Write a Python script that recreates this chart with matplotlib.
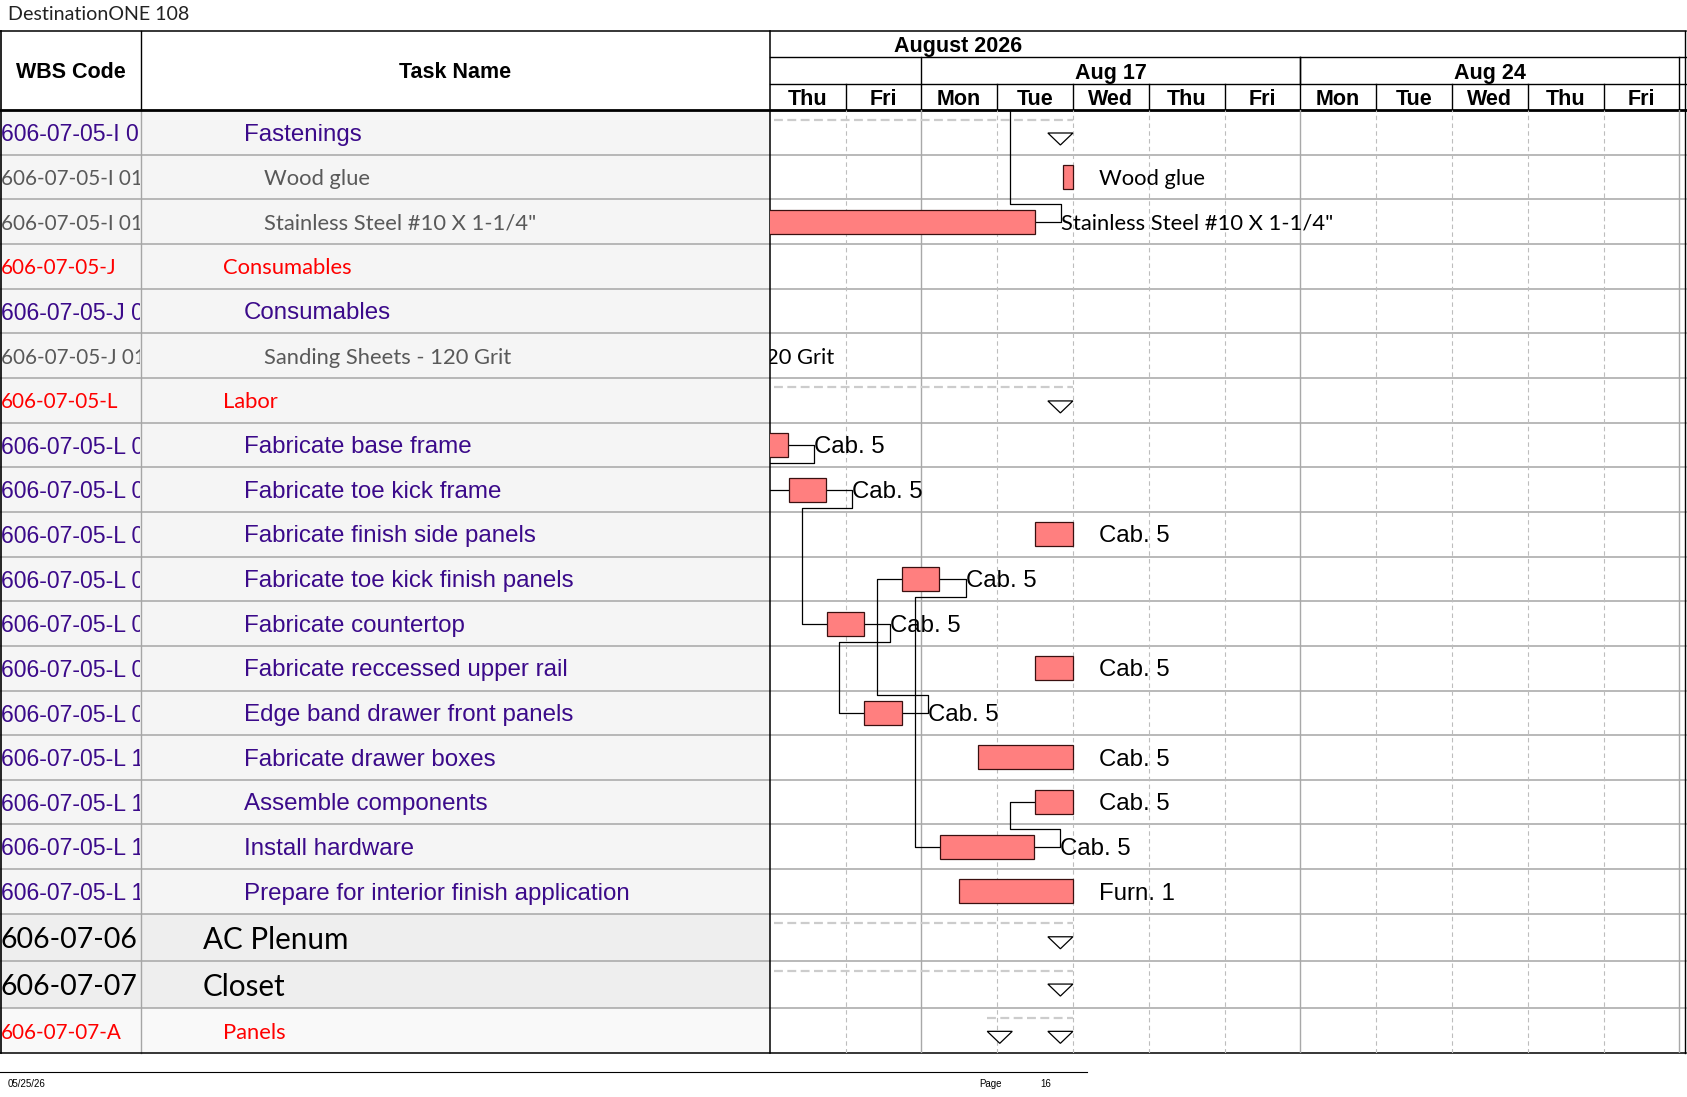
import numpy as np
import matplotlib
matplotlib.use("Agg")
import matplotlib.pyplot as plt
from matplotlib.patches import Rectangle, Polygon

# ---------------- data ----------------
wbs_codes = ["606-07-05-I 01", "606-07-05-I 0101", "606-07-05-I 0102",
             "606-07-05-J", "606-07-05-J 01", "606-07-05-J 0101",
             "606-07-05-L", "606-07-05-L 03", "606-07-05-L 04", "606-07-05-L 05",
             "606-07-05-L 06", "606-07-05-L 07", "606-07-05-L 08", "606-07-05-L 09",
             "606-07-05-L 10", "606-07-05-L 11", "606-07-05-L 12", "606-07-05-L 13",
             "606-07-06", "606-07-07", "606-07-07-A"]
task_names = ["Fastenings", "Wood glue", "Stainless Steel #10 X 1-1/4\"",
              "Consumables", "Consumables", "Sanding Sheets - 120 Grit",
              "Labor", "Fabricate base frame", "Fabricate toe kick frame",
              "Fabricate finish side panels", "Fabricate toe kick finish panels",
              "Fabricate countertop", "Fabricate reccessed upper rail",
              "Edge band drawer front panels", "Fabricate drawer boxes",
              "Assemble components", "Install hardware",
              "Prepare for interior finish application",
              "AC Plenum", "Closet", "Panels"]
outline_levels = [4, 5, 5, 3, 4, 5, 3, 4, 4, 4, 4, 4, 4, 4, 4, 4, 4, 4, 2, 2, 3]
row_styles = ["purple", "gray", "gray", "red", "purple", "gray", "red"] + ["purple"] * 11 + ["black", "black", "red"]
is_summary = [True, False, False, True, True, False, True] + [False] * 11 + [True, True, True]
# days counted from Thu Aug 13 2026 (working days only)
task_start = [-1.0, 3.87, -1.0, -4.0, -4.0, -3.5, -1.0,
              -0.26, 0.25, 3.5, 1.75, 0.75, 3.5, 1.25, 2.75, 3.5, 2.25, 2.5,
              -1.0, -1.0, 2.87]
task_end = [4.0, 4.0, 3.5, -2.0, -2.0, -2.76, 4.0,
            0.24, 0.74, 4.0, 2.24, 1.24, 4.0, 1.74, 4.0, 4.0, 3.49, 4.0,
            4.0, 4.0, 4.0]
bar_labels = ["", "Wood glue", "Stainless Steel #10 X 1-1/4\"", "", "", "Sanding Sheets - 120 Grit", "",
              "Cab. 5", "Cab. 5", "Cab. 5", "Cab. 5", "Cab. 5", "Cab. 5", "Cab. 5",
              "Cab. 5", "Cab. 5", "Cab. 5", "Furn. 1", "", "", ""]
links = [(7, 8), (8, 11), (11, 13), (13, 10), (10, 16), (16, 15)]
offpage_links = [(2, 3.5)]   # (predecessor row, successor start) on previous page
day_labels = ["Thu", "Fri", "Mon", "Tue", "Wed", "Thu", "Fri", "Mon", "Tue", "Wed", "Thu", "Fri"]
week_labels = ["Aug 17", "Aug 24"]
week_bounds = [(2, 7), (7, 12)]
month_label = "August 2026"
title_text = "DestinationONE 108"
footer_date = "05/25/26"
footer_page = "16"

# ---------------- layout / style ----------------
ARIAL = ["Liberation Sans", "DejaVu Sans"]
CAL = ["Lato", "DejaVu Sans"]
W, H = 1687, 1097
X_TABLE, X_RIGHT = 769.7, 1686.0
X_WBS = 141.0
Y_TOP, Y_HDR, Y_BOT = 31.0, 110.0, 1053.0
DAY_W = 75.8
X1 = (X_RIGHT - X_TABLE) / DAY_W
BAR_H = 24.0
LABEL_GAP = 0.345
BACK = 0.33
TRI_W = 0.33
TXT_DY = 2.2

txt_color = {"purple": "#3b0a8a", "gray": "#595959", "red": "#ff0000", "black": "#000000"}
txt_font = {"purple": ARIAL, "gray": CAL, "red": CAL, "black": CAL}
name_size = {"purple": 17.4, "gray": 15.8, "red": 15.8, "black": 21.3}
code_size = {"purple": 16.6, "gray": 14.9, "red": 14.9, "black": 20.5}
bg_color = {"purple": "#f5f5f5", "gray": "#f5f5f5", "red": "#f5f5f5", "black": "#eeeeee"}

n = len(task_names)
row_h = np.array([47.3 if s == "black" else 44.67 for s in row_styles])
row_h = row_h * (Y_BOT - Y_HDR) / row_h.sum()
row_top = np.concatenate([[0], np.cumsum(row_h)[:-1]])
row_ctr = row_top + row_h / 2

fig = plt.figure(figsize=(W / 100, H / 100), dpi=100)
fig.patch.set_facecolor("white")

# base axes in pixel coordinates
ax = fig.add_axes([0, 0, 1, 1])
ax.set_xlim(0, W)
ax.set_ylim(H, 0)
ax.axis("off")

# table row backgrounds
for i in range(n):
    c = bg_color[row_styles[i]]
    if i == n - 1:
        c = "#f9f9f9"
    ax.add_patch(Rectangle((0, Y_HDR + row_top[i]), X_TABLE, row_h[i], facecolor=c, edgecolor="none", zorder=0))

# horizontal row lines
for i in range(1, n):
    y = Y_HDR + row_top[i]
    ax.plot([0, X_RIGHT], [y, y], color="#a6a6a6", lw=1.1, zorder=1)

# vertical table lines
ax.plot([X_WBS, X_WBS], [Y_HDR, Y_BOT], color="#a6a6a6", lw=1.0, zorder=1)
ax.plot([X_WBS, X_WBS], [Y_TOP, Y_HDR], color="black", lw=1.0, zorder=3)
ax.plot([X_TABLE, X_TABLE], [Y_TOP, Y_BOT], color="black", lw=1.1, zorder=5)
ax.plot([0.7, 0.7], [Y_TOP, Y_BOT], color="black", lw=1.2, zorder=5)
ax.plot([X_RIGHT - 0.5, X_RIGHT - 0.5], [Y_TOP, Y_BOT], color="black", lw=1.0, zorder=5)
ax.plot([0, X_RIGHT], [Y_TOP, Y_TOP], color="black", lw=1.1, zorder=5)
ax.plot([0, X_RIGHT], [Y_HDR, Y_HDR], color="black", lw=2.0, zorder=5)
ax.plot([0, X_RIGHT], [Y_BOT, Y_BOT], color="black", lw=1.1, zorder=5)

# header texts
ax.text(X_WBS / 2, 70.5 + 2.5, "WBS Code", ha="center", va="center", fontsize=15.5,
        fontweight="bold", family=ARIAL)
ax.text((X_WBS + X_TABLE) / 2, 70.5 + 2.5, "Task Name", ha="center", va="center", fontsize=15.5,
        fontweight="bold", family=ARIAL)
ax.text(8, 15, title_text, ha="left", va="center", fontsize=14.1, family=CAL, color="#222222")

# table text
clip_rect = Rectangle((0, Y_HDR), X_WBS - 1, Y_BOT - Y_HDR, transform=ax.transData)
for i in range(n):
    s = row_styles[i]
    y = Y_HDR + row_ctr[i] + TXT_DY
    t = ax.text(1, y, wbs_codes[i], ha="left", va="center", color=txt_color[s],
                fontsize=code_size[s], family=txt_font[s], zorder=4, clip_on=True)
    t.set_clip_path(clip_rect)
    x_name = 203 + 20.5 * (outline_levels[i] - 2)
    ax.text(x_name, y, task_names[i], ha="left", va="center", color=txt_color[s],
            fontsize=name_size[s], family=txt_font[s], zorder=4)

# footer
ax.plot([0, 1087], [1072, 1072], color="black", lw=0.8)
ax.text(8, 1084, footer_date, ha="left", va="center", fontsize=7, family=ARIAL)
ax.text(979, 1084, "Page", ha="left", va="center", fontsize=7, family=ARIAL)
ax.text(1040, 1084, footer_page, ha="left", va="center", fontsize=7, family=ARIAL)

# ---------------- timescale header ----------------
axh = fig.add_axes([X_TABLE / W, 1 - Y_HDR / H, (X_RIGHT - X_TABLE) / W, (Y_HDR - Y_TOP) / H])
axh.set_xlim(0, X1)
axh.set_ylim(Y_HDR - Y_TOP, 0)
axh.axis("off")
axh.patch.set_alpha(0)
for yl in (26, 53):
    axh.plot([0, X1], [yl, yl], color="black", lw=1.0, clip_on=False)
axh.text(2.48, 15.5, month_label, ha="center", va="center", fontsize=15.5, fontweight="bold", family=ARIAL)
for lab, (a, b) in zip(week_labels, week_bounds):
    axh.text((a + b) / 2, 42, lab, ha="center", va="center", fontsize=15.5, fontweight="bold", family=ARIAL)
    for xb in (a, b):
        axh.plot([xb, xb], [26, 53], color="black", lw=1.0, clip_on=False)
for d, lab in enumerate(day_labels):
    axh.text(d + 0.5, 68.5, lab, ha="center", va="center", fontsize=15.5, fontweight="bold", family=ARIAL)
    axh.plot([d + 1, d + 1], [53, 79], color="black", lw=1.0, clip_on=False)

# ---------------- gantt chart ----------------
axc = fig.add_axes([X_TABLE / W, 1 - Y_BOT / H, (X_RIGHT - X_TABLE) / W, (Y_BOT - Y_HDR) / H])
axc.set_xlim(0, X1)
axc.set_ylim(Y_BOT - Y_HDR, 0)
axc.axis("off")
axc.patch.set_alpha(0)

for d in range(1, 13):
    if day_labels[d - 1] == "Fri" or d == 12:
        axc.axvline(d, color="#a8a8a8", lw=1.0, zorder=1)
    else:
        axc.axvline(d, color="#bdbdbd", lw=0.8, ls=(0, (4, 3)), zorder=1)

for i in range(n):
    top = row_top[i]
    st, en = task_start[i], task_end[i]
    if is_summary[i]:
        axc.plot([st, en], [top + 9.5, top + 9.5], color="#cccccc", lw=1.6, ls=(0, (4, 2)), zorder=2)
        axc.add_patch(Polygon([(en - TRI_W, top + 23), (en, top + 23), (en - TRI_W / 2, top + 35)],
                              closed=True, facecolor="white", edgecolor="black", lw=0.9, zorder=3))
        if st >= 0:
            axc.add_patch(Polygon([(st, top + 23), (st + TRI_W, top + 23), (st + TRI_W / 2, top + 35)],
                                  closed=True, facecolor="white", edgecolor="black", lw=0.9, zorder=3))
    else:
        axc.barh(row_ctr[i], en - st, left=st, height=BAR_H, color="#ff7f7f",
                 edgecolor="#3a1010", lw=0.9, zorder=4)
    if bar_labels[i]:
        s = row_styles[i]
        fam = CAL if s == "gray" else ARIAL
        fs = 15.8 if s == "gray" else 17.3
        axc.text(en + LABEL_GAP, row_ctr[i] + TXT_DY, bar_labels[i], ha="left", va="center",
                 fontsize=fs, family=fam, color="black", clip_on=True, zorder=5)


def link_path(p_end, p_y, s_start, s_y):
    x1 = p_end + LABEL_GAP
    yb = p_y + BAR_H / 2 + 6 if s_y > p_y else p_y - BAR_H / 2 - 6
    xb = s_start - BACK
    return [p_end, x1, x1, xb, xb, s_start], [p_y, p_y, yb, yb, s_y, s_y]


for p, s in links:
    xs, ys = link_path(task_end[p], row_ctr[p], task_start[s], row_ctr[s])
    axc.plot(xs, ys, color="black", lw=0.9, zorder=3)
for p, s_start in offpage_links:
    xs, ys = link_path(task_end[p], row_ctr[p], s_start, -80)
    axc.plot(xs, ys, color="black", lw=0.9, zorder=3)

fig.savefig("out.png", dpi=100, facecolor="white")
